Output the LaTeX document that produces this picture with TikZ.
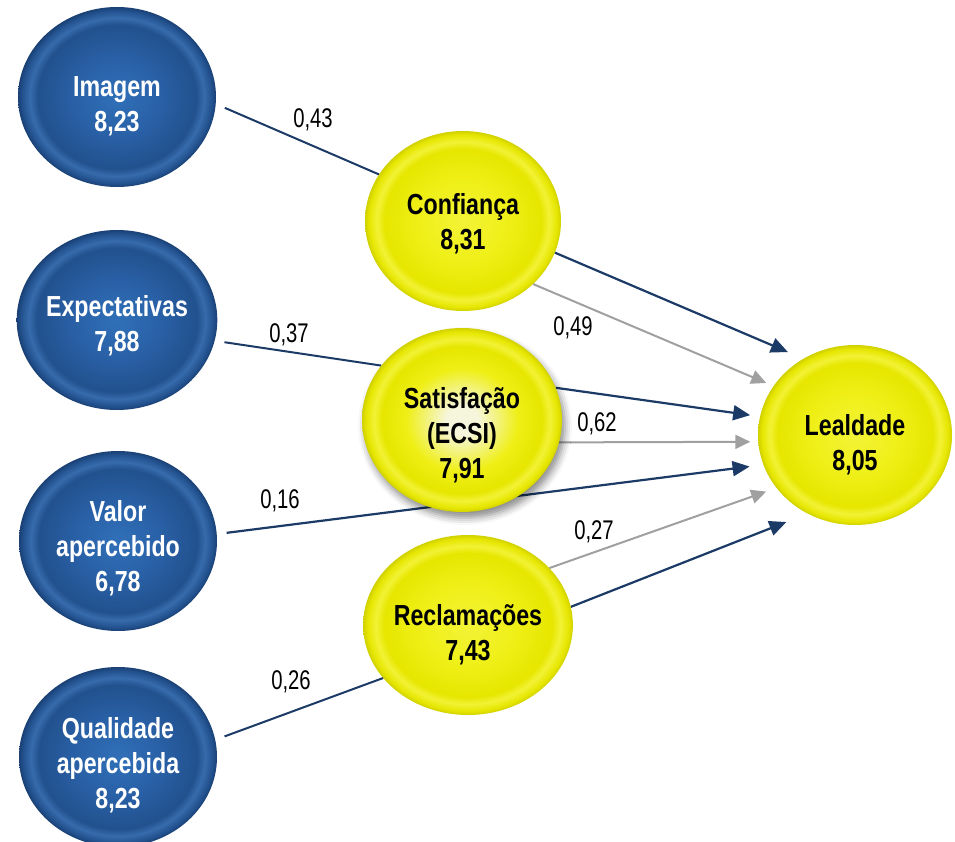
\documentclass[tikz,border=0pt]{standalone}
\usepackage{fontspec}
\setmainfont{Liberation Sans}
\newfontfamily\narrowsans[FakeStretch=0.8]{Liberation Sans}
\newfontfamily\coefsans[FakeStretch=0.75]{Liberation Sans}
\usetikzlibrary{arrows.meta, shapes.geometric, backgrounds, shadows.blur}
\definecolor{lnavy}{HTML}{1B3A66}
\definecolor{lgray}{HTML}{A0A0A0}
\definecolor{bcore}{HTML}{3070B8}
\definecolor{bmid}{HTML}{2960A6}
\definecolor{bdeep}{HTML}{22518E}
\definecolor{brim}{HTML}{376BAC}
\definecolor{bedge}{HTML}{1A4074}
\definecolor{ycore}{HTML}{F3F338}
\definecolor{ymid}{HTML}{EFEF16}
\definecolor{ydeep}{HTML}{E6E600}
\definecolor{yrim}{HTML}{F2F236}
\definecolor{yedge}{HTML}{D0D000}
\definecolor{swhite}{HTML}{F6F6DC}
\pgfdeclareradialshading{bluebubble}{\pgfpoint{0bp}{0bp}}{%
  color(0bp)=(bcore); color(11bp)=(bmid); color(20bp)=(bdeep);
  color(22bp)=(brim); color(24bp)=(bdeep); color(25bp)=(bedge); color(50bp)=(bedge)}
\pgfdeclareradialshading{yellowbubble}{\pgfpoint{0bp}{0bp}}{%
  color(0bp)=(ycore); color(12bp)=(ymid); color(20bp)=(ydeep);
  color(22bp)=(yrim); color(24bp)=(ydeep); color(25bp)=(yedge); color(50bp)=(yedge)}
\pgfdeclareradialshading{satbubble}{\pgfpoint{0bp}{0bp}}{%
  color(0bp)=(swhite); color(4bp)=(swhite); color(14bp)=(ymid); color(20bp)=(ydeep);
  color(22bp)=(yrim); color(24bp)=(ydeep); color(25bp)=(yedge); color(50bp)=(yedge)}
% strut on the first line, pushes the text block down
\newcommand{\topgap}[1]{\rule{0pt}{#1}}
\tikzset{
  bubble/.style={
    ellipse, inner sep=0pt, outer sep=0pt, align=center,
    font=\narrowsans\bfseries\fontsize{29}{35}\selectfont
  },
  latent/.style={bubble, shading=bluebubble, text=white,
    minimum width=198pt, minimum height=180pt},
  construct/.style={bubble, shading=yellowbubble, text=black,
    minimum width=196pt, minimum height=180pt},
  dline/.style={draw=lnavy, line width=2pt},
  darrow/.style={dline, line width=2.2pt, -{Triangle[length=17pt,width=15pt]}},
  garrow/.style={draw=lgray, line width=2pt, -{Triangle[length=15pt,width=14pt]}},
  coef/.style={font=\coefsans\fontsize{27}{30}\selectfont, inner sep=0pt}
}
\begin{document}
\begin{tikzpicture}[x=1pt, y=-1pt]
  \useasboundingbox (0,0) rectangle (955,842);
  % drivers
  \node[latent] (img)  at (117,97)  {\topgap{38pt}Imagem\\8,23};
  \node[latent] (exp)  at (117,320) {\topgap{33pt}Expectativas\\7,88};
  \node[latent] (val)  at (118,541) {\topgap{36pt}Valor\\apercebido\\6,78};
  \node[latent] (qual) at (118,757) {\topgap{38pt}Qualidade\\apercebida\\8,23};
  % constructs
  \node[construct] (conf) at (463,221) {\topgap{27pt}Confiança\\8,31};
  \node[construct, shading=satbubble, minimum width=200pt, minimum height=184pt,
    blur shadow={shadow xshift=3pt, shadow yshift=-6pt, shadow blur radius=7pt, shadow opacity=45}]
    (sat) at (462,420) {\topgap{51pt}Satisfação\\(ECSI)\\7,91};
  \node[construct] (recl) at (468,625) {\topgap{40pt}Reclamações\\7,43};
  \node[construct, minimum width=194pt] (leal) at (855,435) {\topgap{40pt}Lealdade\\8,05};
  % paths
  \begin{scope}[on background layer]
    \draw[dline, shorten <=10pt] (img.-4) -- (conf.151);
    \draw[dline, shorten <=10pt] (exp.-12) -- (sat.146);
    \draw[darrow, shorten <=10pt, shorten >=14pt] (val.4) -- (leal.198);
    \draw[dline, shorten <=10pt] (qual.10) -- (recl.212);
    \draw[darrow, shorten >=17pt] (conf.-19) -- (leal.124);
    \draw[garrow, shorten >=8pt] (conf.-42) -- (leal.149);
    \draw[darrow, shorten >=10pt] (sat.19) -- (leal.169);
    \draw[garrow, shorten >=8pt] (sat.-13) -- (leal.184);
    \draw[garrow, shorten >=11pt] (recl.35) -- (leal.214);
    \draw[darrow, shorten >=23pt] (recl.10) -- (leal.239);
  \end{scope}
  % coefficients
  \node[coef] (c43) at (313,120) {0,43};
  \node[coef] (c37) at (289,335) {0,37};
  \node[coef] (c16) at (280,501) {0,16};
  \node[coef] (c26) at (291,682) {0,26};
  \node[coef] (c49) at (573,328) {0,49};
  \node[coef] (c62) at (597,424) {0,62};
  \node[coef] (c27) at (594,532) {0,27};
\end{tikzpicture}
\end{document}
